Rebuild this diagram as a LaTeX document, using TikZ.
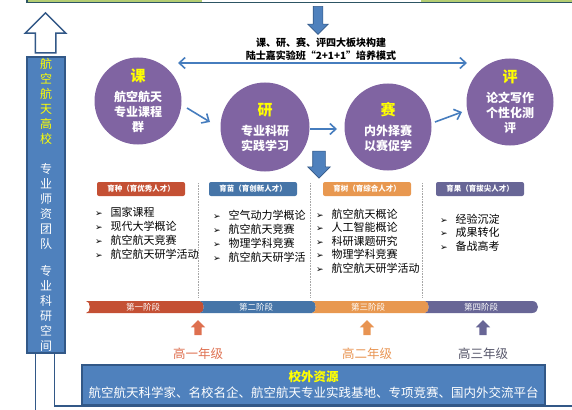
\documentclass[tikz,border=0pt]{standalone}
\usepackage{fontspec}
\setmainfont{Noto Sans CJK SC}
\newfontfamily\symfont{DejaVu Sans}
\usepackage{tikz}
\usetikzlibrary{shapes.geometric, shapes.arrows, arrows.meta, positioning, calc}
\definecolor{kePurple}{RGB}{128,100,162}
\definecolor{boxBlue}{RGB}{79,129,189}
\definecolor{edgeBlue}{RGB}{50,88,135}
\definecolor{lineBlue}{RGB}{70,125,190}
\definecolor{barGreen}{RGB}{180,205,115}
\definecolor{barEdge}{RGB}{45,85,100}
\definecolor{stageRed}{RGB}{196,80,52}
\definecolor{stageBlue}{RGB}{70,117,168}
\definecolor{stageOrange}{RGB}{232,152,80}
\definecolor{stagePurple}{RGB}{104,102,150}
\definecolor{gradeRed}{RGB}{222,112,80}
\definecolor{gradeOrange}{RGB}{232,148,82}
\definecolor{gradeGrey}{RGB}{85,85,105}
\definecolor{hiYellow}{RGB}{255,255,0}
\newcommand{\bul}{{\symfont\fontsize{9}{9}\selectfont ➢}\hspace{8pt}}

\begin{document}
\begin{tikzpicture}[
    x=1pt, y=-1pt,
    every node/.style={inner sep=0pt, font=\fontsize{11}{14}\selectfont},
    pcircle/.style={circle, fill=kePurple, minimum size=87pt, text=white, align=center, font=\bfseries\fontsize{12}{15}\selectfont},
    tag/.style={rectangle, rounded corners=2pt, fill=#1, minimum width=88pt, minimum height=14pt, text=white, font=\bfseries\fontsize{7.5}{8}\selectfont},
    itemlist/.style={align=left, anchor=north west},
    stagetext/.style={text=white, font=\fontsize{8.5}{8.5}\selectfont},
    grade/.style={text=#1, font=\fontsize{12.5}{14}\selectfont},
    uparrow/.style={single arrow, shape border rotate=90, fill=#1, inner sep=3.5pt, minimum height=15pt, single arrow head extend=3.5pt},
    bigarrow/.style={single arrow, shape border rotate=270, fill=boxBlue, draw=edgeBlue, line width=0.6pt},
    arrow/.style={-{Straight Barb[length=6pt, width=11pt]}, lineBlue, line width=1.6pt},
    conn/.style={edgeBlue, line width=1.5pt},
    sep/.style={gray!70, densely dotted, line width=0.6pt}
]
\useasboundingbox (0,0) rectangle (572,409);

% Top: school frame
\node[draw=barEdge, fill=barGreen, line width=1.5pt, anchor=south west, minimum width=570pt, minimum height=20pt] (topbar) at (26,3.5) {};
\fill[white] (202,-20) rectangle (421,2.5);

% Left column
\node[single arrow, shape border rotate=90, draw=edgeBlue, fill=white, line width=1.5pt, inner sep=9.5pt, minimum height=40pt, single arrow head extend=10pt] (upHollow) at (45.5,38) {};
\node[draw=edgeBlue, fill=boxBlue, line width=1.2pt, minimum width=38pt, minimum height=296pt, text=white, align=center, font=\fontsize{12}{15}\selectfont] (school) at (46,205)
  {\textcolor{hiYellow}{航}\\\textcolor{hiYellow}{空}\\\textcolor{hiYellow}{航}\\\textcolor{hiYellow}{天}\\\textcolor{hiYellow}{高}\\\textcolor{hiYellow}{校}\\[15pt]专\\业\\师\\资\\团\\队\\[12pt]专\\业\\科\\研\\空\\间};

% Title and four blocks
\node[bigarrow, inner sep=4.5pt, minimum height=28pt, single arrow head extend=5.5pt] (down1) at (318,18) {};
\node[align=center, font=\bfseries\fontsize{10}{13}\selectfont] (title) at (321,49) {课、研、赛、评四大板块构建\\陆士嘉实验班“2+1+1”培养模式};

\node[pcircle] (ke) at (138,101) {\textcolor{hiYellow}{\fontsize{15}{15}\selectfont 课}\\[5pt]航空航天\\专业课程\\群};
\node[pcircle, minimum size=89pt] (yan) at (265,127) {\textcolor{hiYellow}{\fontsize{15}{15}\selectfont 研}\\[5pt]专业科研\\实践学习};
\node[pcircle] (sai) at (388,127) {\textcolor{hiYellow}{\fontsize{15}{15}\selectfont 赛}\\[5pt]内外择赛\\以赛促学};
\node[pcircle] (ping) at (510,102) {\textcolor{hiYellow}{\fontsize{15}{15}\selectfont 评}\\[5pt]论文写作\\个性化测\\评};

% Arrows between blocks
\coordinate (keIn) at (178,63);
\coordinate (pingIn) at (467,63);
\draw[arrow, {Straight Barb[length=6pt, width=11pt]}-{Straight Barb[length=6pt, width=11pt]}] (keIn) -- (pingIn);
\draw[arrow] ($(ke)+(49,7)$) -- ($(yan)+(-55,-5)$);
\draw[arrow] ($(yan)+(45,2)$) -- ($(sai)+(-51,2)$);
\draw[arrow] ($(sai)+(47,-5)$) -- ($(ping)+(-48,10)$);
\node[bigarrow, inner sep=6pt, minimum height=27pt, single arrow head extend=5pt] (down2) at (319,161.5) {};

% Four stages
\node[tag=stageRed] (tag1) at (141,189) {育种（育优秀人才）};
\node[tag=stageBlue] (tag2) at (253,189) {育苗（育创新人才）};
\node[tag=stageOrange] (tag3) at (367,189) {育树（育综合人才）};
\node[tag=stagePurple] (tag4) at (480,189) {育果（育拔尖人才）};

\draw[sep] (198,183) -- (198,298);
\draw[sep] (310,183) -- (310,298);
\draw[sep] (422,183) -- (422,298);

\node[itemlist] (list1) at (95,207) {\bul 国家课程\\\bul 现代大学概论\\\bul 航空航天竞赛\\\bul 航空航天研学活动};
\node[itemlist] (list2) at (213,210) {\bul 空气动力学概论\\\bul 航空航天竞赛\\\bul 物理学科竞赛\\\bul 航空航天研学活};
\node[itemlist, font=\fontsize{11}{13.4}\selectfont] (list3) at (316,209) {\bul 航空航天概论\\\bul 人工智能概论\\\bul 科研课题研究\\\bul 物理学科竞赛\\\bul 航空航天研学活动};
\node[itemlist, font=\fontsize{11}{13.3}\selectfont] (list4) at (440,214) {\bul 经验沉淀\\\bul 成果转化\\\bul 备战高考};

% Stage bar
\fill[stageRed] (86,301) -- (200,301) .. controls (205,301) and (205,313) .. (200,313) -- (86,313) .. controls (91,313) and (91,301) .. (86,301);
\fill[stageBlue] (200,301) -- (312,301) .. controls (317,301) and (317,313) .. (312,313) -- (200,313) .. controls (205,313) and (205,301) .. (200,301);
\fill[stageOrange] (312,301) -- (425,301) .. controls (430,301) and (430,313) .. (425,313) -- (312,313) .. controls (317,313) and (317,301) .. (312,301);
\fill[stagePurple] (425,301) -- (532,301) .. controls (540,301) and (540,313) .. (532,313) -- (425,313) .. controls (430,313) and (430,301) .. (425,301);
\node[stagetext] (st1) at (143,307) {第一阶段};
\node[stagetext] (st2) at (256,307) {第二阶段};
\node[stagetext] (st3) at (368,307) {第三阶段};
\node[stagetext] (st4) at (481,307) {第四阶段};

% Grades
\node[uparrow=gradeRed] (up1) at (198,329.5) {};
\node[uparrow=gradeOrange] (up2) at (367,329.5) {};
\node[uparrow=stagePurple] (up3) at (483,329.5) {};
\node[grade=gradeRed, below=12pt of up1] (g1) {高一年级};
\node[grade=gradeOrange, below=12pt of up2] (g2) {高二年级};
\node[grade=gradeGrey, below=12pt of up3] (g3) {高三年级};

% Outside resources
\node[draw=edgeBlue, fill=boxBlue, line width=1.5pt, minimum width=463pt, minimum height=40pt, text=white, align=center, font=\fontsize{12.5}{16}\selectfont] (outside) at (313.5,385)
  {\textcolor{hiYellow}{\bfseries 校外资源}\\航空航天科学家、名校名企、航空航天专业实践基地、专项竞赛、国内外交流平台};

% Loop lines
\draw[conn] ([xshift=9pt]school.south west) -- ++(0,60);
\draw[conn] ([xshift=28pt]school.south west) |- (outside.south west) -- (outside.south east) -- ++(40,0);

\end{tikzpicture}
\end{document}
